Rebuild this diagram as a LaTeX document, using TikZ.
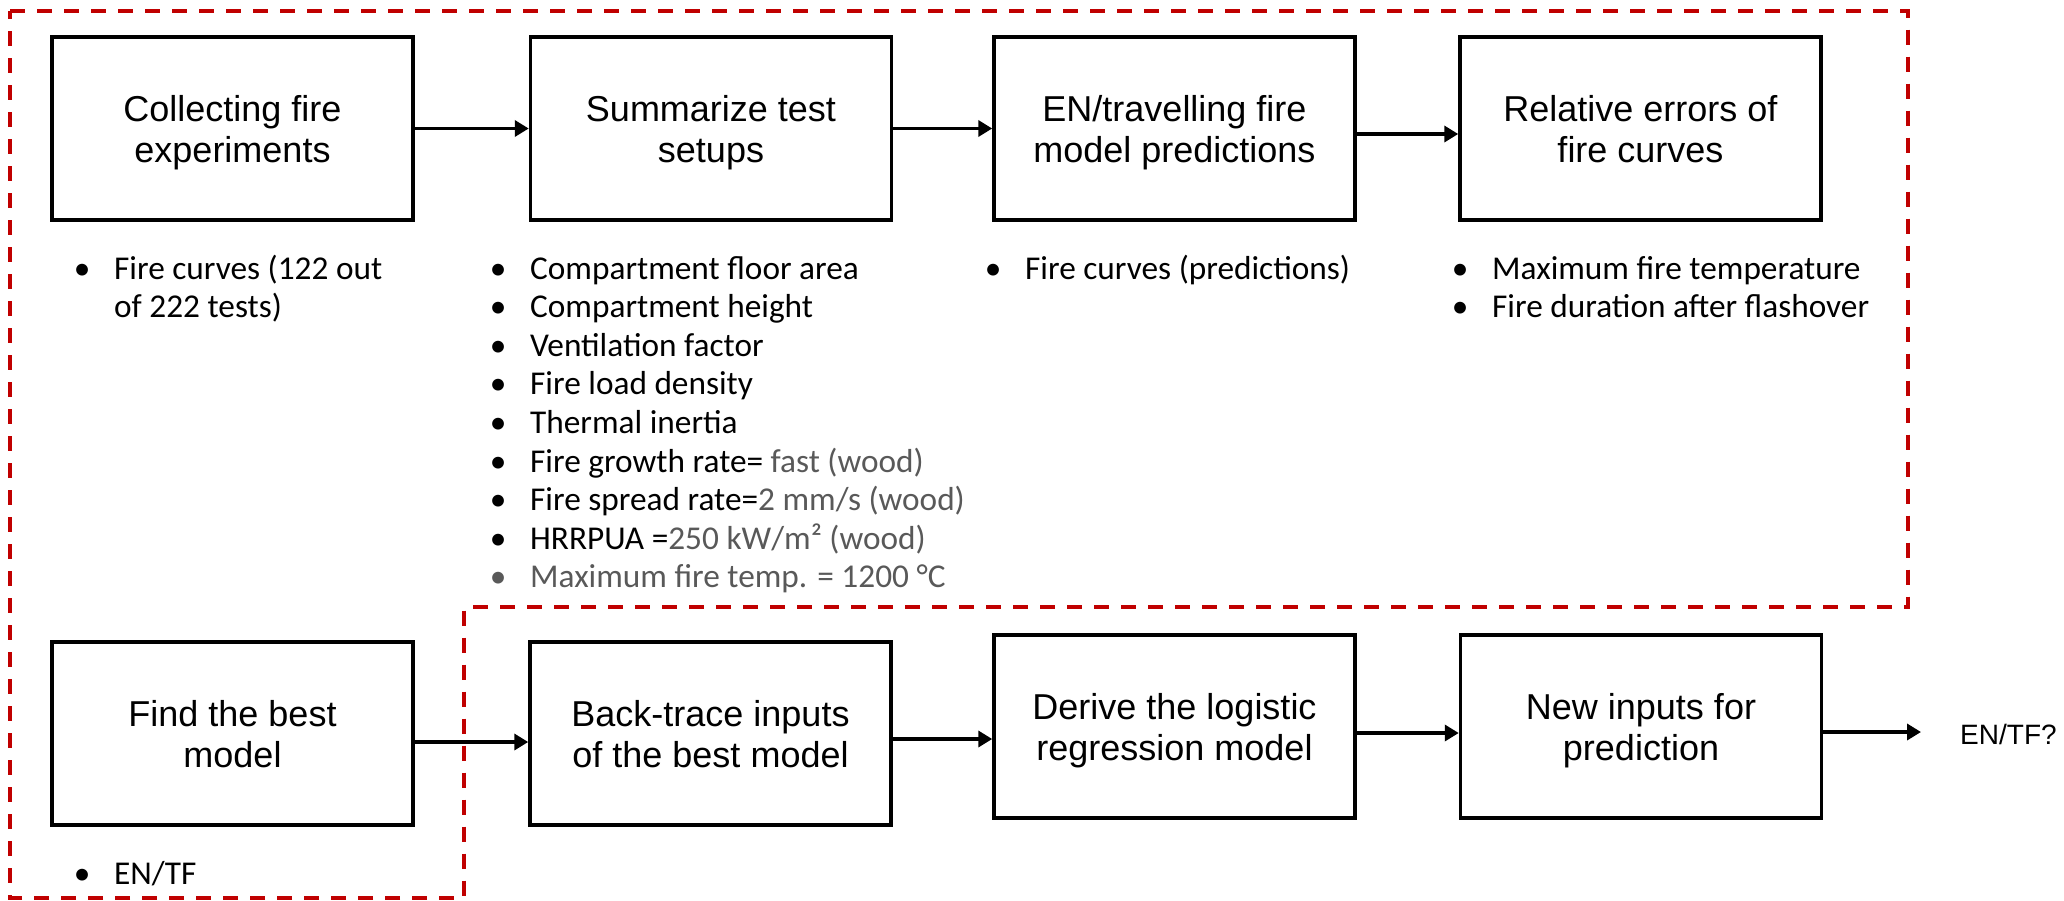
\documentclass[tikz,border=0pt]{standalone}
\usepackage{fontspec}
\setmainfont{Liberation Sans}
\newfontfamily\listfamily{Carlito}
\usetikzlibrary{arrows.meta}
\definecolor{dashred}{RGB}{192,0,0}
\definecolor{softgray}{RGB}{89,89,89}
\newcommand\boxfont{\fontsize{36}{41}\selectfont}
\newcommand\listfont{\listfamily\fontsize{33.3}{38.6}\selectfont}
\newcommand\bul{\makebox[64pt][c]{•}}
\newcommand\ind{\hspace*{64pt}}
\newcommand\twolines[2]{\rule{0pt}{34pt}#1\\#2\rule[-8pt]{0pt}{8pt}}
\tikzstyle{stage}=[draw, line width=3.5pt, minimum width=361pt, minimum height=183pt, inner sep=0pt, align=center, font=\boxfont]
\tikzstyle{items}=[anchor=base west, inner sep=0pt, align=left, font=\listfont]
\tikzstyle{arr}=[line width=3.5pt, -{Triangle[length=14pt, width=16pt]}]

\begin{document}
\begin{tikzpicture}[x=1pt, y=-1pt]
        \useasboundingbox (0,0) rectangle (2064,900);
        \draw[dashred, line width=4pt, dash pattern=on 15pt off 12pt] (10,10.5) -- (1908,10.5) -- (1908,607) -- (464,607) -- (464,897.5) -- (10,897.5) -- cycle;
        \node[stage] (collect) at (232.5,128.5) {\twolines{Collecting fire}{experiments}};
        \node[stage] (setup) at (711,128.5) {\twolines{Summarize test}{setups}};
        \node[stage] (predict) at (1174.5,128.5) {\twolines{EN/travelling fire}{model predictions}};
        \node[stage] (errors) at (1640.5,128.5) {\twolines{Relative errors of}{fire curves}};
        \node[stage] (best) at (232.5,733.5) {\twolines{Find the best}{model}};
        \node[stage] (trace) at (710.5,733.5) {\twolines{Back-trace inputs}{of the best model}};
        \node[stage] (derive) at (1174.5,726.5) {\twolines{Derive the logistic}{regression model}};
        \node[stage] (newin) at (1641,726.5) {\twolines{New inputs for}{prediction}};
        \node[anchor=base west, inner sep=0pt, font=\fontsize{28}{34}\selectfont] (res) at (1960,744) {EN/TF?};
        \node[items] (curves) at (50,317.6) {\bul Fire curves (122 out\\\ind of 222 tests)};
        \node[items] (setuplist) at (466,587.8) {\bul Compartment floor area\\
            \bul Compartment height\\
            \bul Ventilation factor\\
            \bul Fire load density\\
            \bul Thermal inertia\\
            \bul Fire growth rate= \textcolor{softgray}{fast (wood)}\\
            \bul Fire spread rate=\textcolor{softgray}{2 mm/s (wood)}\\
            \bul HRRPUA =\textcolor{softgray}{250 kW/m² (wood)}\\
            \textcolor{softgray}{\bul Maximum fire temp. = 1200 °C}};
        \node[items] (predlist) at (961,279) {\bul Fire curves (predictions)};
        \node[items] (errlist) at (1428,317.6) {\bul Maximum fire temperature\\\bul Fire duration after flashover};
        \node[items] (bestlist) at (50,884) {\bul EN/TF};
        \draw[arr] (collect.east) -- (setup.west);
        \draw[arr] (setup.east) -- (predict.west);
        \draw[arr] ([yshift=-5.5pt]predict.east) -- ([yshift=-5.5pt]errors.west);
        \draw[arr] ([yshift=-8.5pt]best.east) -- ([yshift=-8.5pt]trace.west);
        \draw[arr] ([yshift=-5.5pt]trace.east) -- ([yshift=-5.5pt]trace.east -| derive.west);
        \draw[arr] ([yshift=-6.5pt]derive.east) -- ([yshift=-6.5pt]newin.west);
        \draw[arr, shorten >=39pt] ([yshift=-5.5pt]newin.east) -- ([yshift=-5.5pt]newin.east -| res.west);
    \end{tikzpicture}
\end{document}
